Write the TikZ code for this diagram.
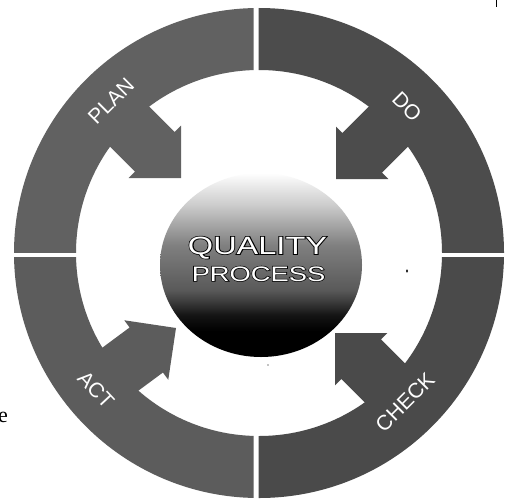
\documentclass[tikz,border=0pt]{standalone}
\usepackage{fontspec}
\setmainfont{Liberation Sans}
\newfontfamily\serifface{Liberation Serif}
\newfontfamily\outlineface[FakeBold=6]{Liberation Sans}
\usepackage{graphicx}
\usetikzlibrary{calc}

\definecolor{planc}{gray}{0.38}
\definecolor{doc}{gray}{0.30}
\definecolor{actc}{gray}{0.36}
\definecolor{checkc}{gray}{0.29}

\pgfdeclareverticalshading{sphereshade}{100bp}{%
  color(0bp)=(black); color(32bp)=(black); color(36.4bp)=(black!92);
  color(40.5bp)=(black!75); color(43.2bp)=(black!65); color(55.4bp)=(black!50);
  color(60.9bp)=(black!35); color(66.3bp)=(black!20); color(71.7bp)=(black!8);
  color(75bp)=(white); color(100bp)=(white)}

% tip x, tip y, canvas angle, colour, shaft length
\newcommand{\qarrow}[5]{%
  \begin{scope}[shift={(#1,#2)}, rotate=#3]
    \fill[#4] (0,0) -- (-37,37) -- (-37,28) -- (-#5,28) -- (-#5,-28)
      -- (-37,-28) -- (-37,-37) -- cycle;
  \end{scope}}

\tikzset{
  ringlabel/.style={text=white, inner sep=0pt, font=\fontsize{21}{21}\selectfont},
  centerlabel/.style={inner sep=0pt, anchor=base, text=white},
  centershadow/.style={inner sep=0pt, anchor=base, text=black},
}

\begin{document}
\begin{tikzpicture}[x=1pt, y=-1pt]
\useasboundingbox (0,0) rectangle (505,503);
\fill[white] (0,0) rectangle (505,503);
\coordinate (c) at (259,253);

% ring quadrants
\begin{scope}
  \clip (0,0) rectangle (253.5,252);
  \fill[planc, even odd rule] (c) circle[radius=245] (c) circle[radius=183];
\end{scope}
\begin{scope}
  \clip (258.5,0) rectangle (505,252);
  \fill[doc, even odd rule] (c) circle[radius=245] (c) circle[radius=183];
\end{scope}
\begin{scope}
  \clip (0,257) rectangle (253.5,503);
  \fill[actc, even odd rule] (c) circle[radius=245] (c) circle[radius=183];
\end{scope}
\begin{scope}
  \clip (258.5,257) rectangle (505,503);
  \fill[checkc, even odd rule] (c) circle[radius=245] (c) circle[radius=183];
\end{scope}

% arrows
\qarrow{181}{178}{-45}{planc}{104}
\qarrow{336}{179}{-135}{doc}{104}
\qarrow{335}{333}{135}{checkc}{102}
\qarrow{176}{328}{36.5}{actc}{100}

% sphere
\shade[shading=sphereshade] (261,265) ellipse [x radius=101, y radius=92];
\node[centershadow, font=\outlineface\fontsize{25}{25}\selectfont] (qualityo) at (257.5,254)
  {\scalebox{1.3}[1]{QUALITY}};
\node[centerlabel, font=\fontsize{25}{25}\selectfont] (quality) at (257.5,254)
  {\scalebox{1.3}[1]{QUALITY}};
\node[centershadow, font=\outlineface\fontsize{21}{21}\selectfont] (processo) at (258.5,281)
  {\scalebox{1.3}[1]{PROCESS}};
\node[centerlabel, font=\fontsize{21}{21}\selectfont] (process) at (258.5,281)
  {\scalebox{1.3}[1]{PROCESS}};

% ring labels
\node[ringlabel, rotate=45] (plan) at (111,101) {PLAN};
\node[ringlabel, rotate=-45] (do) at (407,107) {DO};
\node[ringlabel, rotate=45] (check) at (405,402) {CHECK};
\node[ringlabel, rotate=-47] (act) at (96,390) {ACT};

% stray marks
\node[inner sep=0pt, anchor=base east, font=\serifface\fontsize{22}{22}\selectfont] (e) at (8,422) {e};
\fill (407,271) ellipse [x radius=1, y radius=1.8];
\fill (268,365) circle [radius=0.7];
\draw[line width=0.8pt] (496,0) -- (496,7);
\end{tikzpicture}
\end{document}
